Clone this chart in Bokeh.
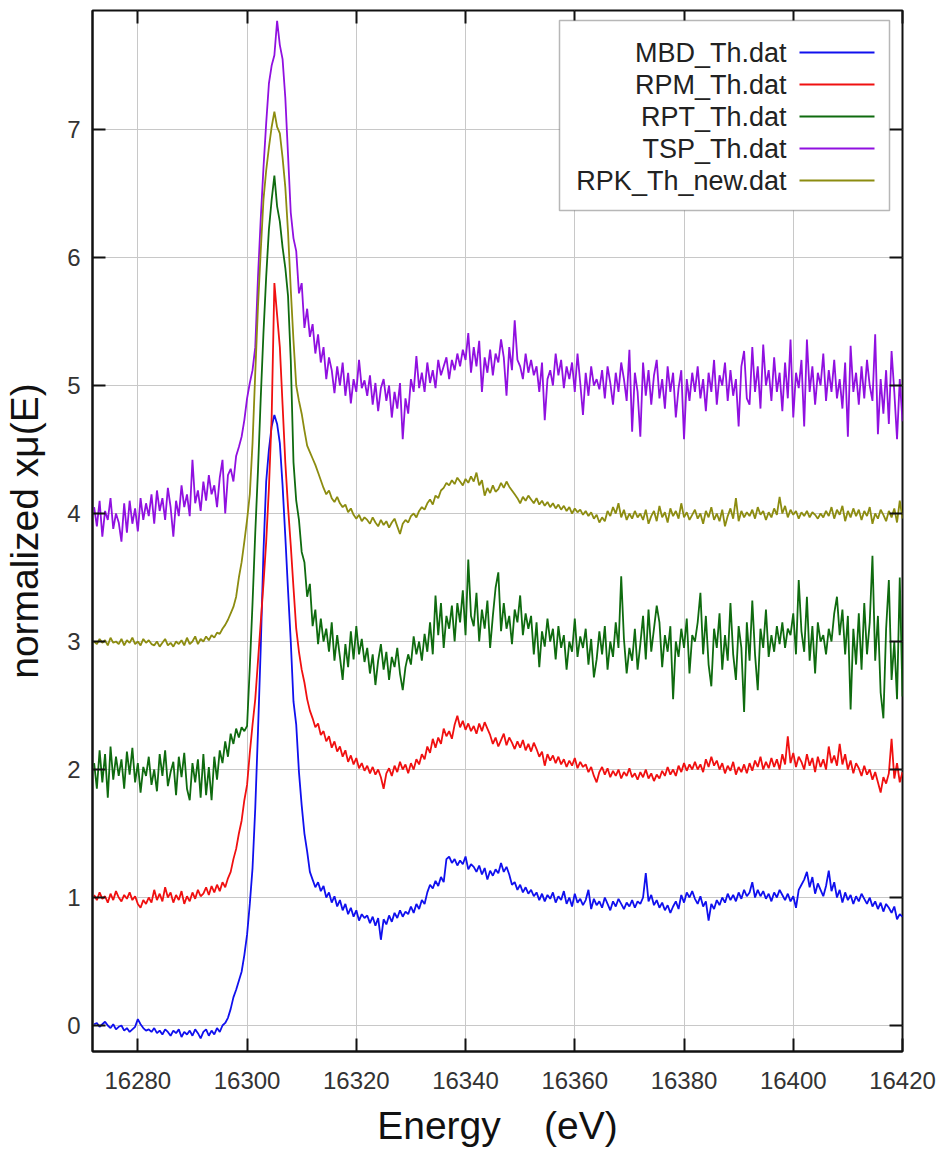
from bokeh.plotting import figure
from bokeh.models import Range1d, LinearAxis, FixedTicker, BoxAnnotation, Label
from bokeh.embed import file_html
from bokeh.resources import INLINE

# ---------------- data ----------------
energy = [
    16272.0, 16272.5, 16273.0, 16273.5, 16274.0, 16274.5, 16275.0, 16275.5, 16276.0, 16276.5,
    16277.0, 16277.5, 16278.0, 16278.5, 16279.0, 16279.5, 16280.0, 16280.5, 16281.0, 16281.5,
    16282.0, 16282.5, 16283.0, 16283.5, 16284.0, 16284.5, 16285.0, 16285.5, 16286.0, 16286.5,
    16287.0, 16287.5, 16288.0, 16288.5, 16289.0, 16289.5, 16290.0, 16290.5, 16291.0, 16291.5,
    16292.0, 16292.5, 16293.0, 16293.5, 16294.0, 16294.5, 16295.0, 16295.5, 16296.0, 16296.5,
    16297.0, 16297.5, 16298.0, 16298.5, 16299.0, 16299.5, 16300.0, 16300.5, 16301.0, 16301.5,
    16302.0, 16302.5, 16303.0, 16303.5, 16304.0, 16304.5, 16305.0, 16305.5, 16306.0, 16306.5,
    16307.0, 16307.5, 16308.0, 16308.5, 16309.0, 16309.5, 16310.0, 16310.5, 16311.0, 16311.5,
    16312.0, 16312.5, 16313.0, 16313.5, 16314.0, 16314.5, 16315.0, 16315.5, 16316.0, 16316.5,
    16317.0, 16317.5, 16318.0, 16318.5, 16319.0, 16319.5, 16320.0, 16320.5, 16321.0, 16321.5,
    16322.0, 16322.5, 16323.0, 16323.5, 16324.0, 16324.5, 16325.0, 16325.5, 16326.0, 16326.5,
    16327.0, 16327.5, 16328.0, 16328.5, 16329.0, 16329.5, 16330.0, 16330.5, 16331.0, 16331.5,
    16332.0, 16332.5, 16333.0, 16333.5, 16334.0, 16334.5, 16335.0, 16335.5, 16336.0, 16336.5,
    16337.0, 16337.5, 16338.0, 16338.5, 16339.0, 16339.5, 16340.0, 16340.5, 16341.0, 16341.5,
    16342.0, 16342.5, 16343.0, 16343.5, 16344.0, 16344.5, 16345.0, 16345.5, 16346.0, 16346.5,
    16347.0, 16347.5, 16348.0, 16348.5, 16349.0, 16349.5, 16350.0, 16350.5, 16351.0, 16351.5,
    16352.0, 16352.5, 16353.0, 16353.5, 16354.0, 16354.5, 16355.0, 16355.5, 16356.0, 16356.5,
    16357.0, 16357.5, 16358.0, 16358.5, 16359.0, 16359.5, 16360.0, 16360.5, 16361.0, 16361.5,
    16362.0, 16362.5, 16363.0, 16363.5, 16364.0, 16364.5, 16365.0, 16365.5, 16366.0, 16366.5,
    16367.0, 16367.5, 16368.0, 16368.5, 16369.0, 16369.5, 16370.0, 16370.5, 16371.0, 16371.5,
    16372.0, 16372.5, 16373.0, 16373.5, 16374.0, 16374.5, 16375.0, 16375.5, 16376.0, 16376.5,
    16377.0, 16377.5, 16378.0, 16378.5, 16379.0, 16379.5, 16380.0, 16380.5, 16381.0, 16381.5,
    16382.0, 16382.5, 16383.0, 16383.5, 16384.0, 16384.5, 16385.0, 16385.5, 16386.0, 16386.5,
    16387.0, 16387.5, 16388.0, 16388.5, 16389.0, 16389.5, 16390.0, 16390.5, 16391.0, 16391.5,
    16392.0, 16392.5, 16393.0, 16393.5, 16394.0, 16394.5, 16395.0, 16395.5, 16396.0, 16396.5,
    16397.0, 16397.5, 16398.0, 16398.5, 16399.0, 16399.5, 16400.0, 16400.5, 16401.0, 16401.5,
    16402.0, 16402.5, 16403.0, 16403.5, 16404.0, 16404.5, 16405.0, 16405.5, 16406.0, 16406.5,
    16407.0, 16407.5, 16408.0, 16408.5, 16409.0, 16409.5, 16410.0, 16410.5, 16411.0, 16411.5,
    16412.0, 16412.5, 16413.0, 16413.5, 16414.0, 16414.5, 16415.0, 16415.5, 16416.0, 16416.5,
    16417.0, 16417.5, 16418.0, 16418.5, 16419.0, 16419.5, 16420.0,
]

mbd_th = [
    0.01, 0.02, -0.01, 0.01, 0.03, 0.0, -0.02, 0.01, -0.03, -0.01, 0.0, -0.04, -0.02, -0.05, -0.03, -0.01, 0.05, 0.01, -0.02, -0.04,
    -0.03, -0.05, -0.02, -0.06, -0.04, -0.07, -0.03, -0.05, -0.08, -0.04, -0.06, -0.03, -0.09, -0.05, -0.07, -0.04, -0.08, -0.03, -0.06, -0.1,
    -0.05, -0.03, -0.08, -0.04, -0.07, -0.02, -0.05, 0.0, 0.02, 0.06, 0.13, 0.22, 0.28, 0.35, 0.42, 0.55, 0.71, 0.95, 1.23, 1.7,
    2.3, 2.95, 3.7, 4.25, 4.5, 4.68, 4.77, 4.7, 4.55, 4.22, 3.82, 3.4, 3.0, 2.53, 2.35, 1.98, 1.72, 1.5, 1.36, 1.2,
    1.14, 1.08, 1.12, 1.05, 1.09, 1.0, 1.04, 0.96, 1.01, 0.93, 0.98, 0.9, 0.95, 0.87, 0.92, 0.85, 0.9, 0.82, 0.87, 0.84,
    0.86, 0.8, 0.85, 0.78, 0.84, 0.67, 0.83, 0.79, 0.86, 0.81, 0.88, 0.84, 0.9, 0.85, 0.89, 0.87, 0.93, 0.88, 0.95, 0.91,
    0.98, 0.95, 1.04, 1.1, 1.07, 1.13, 1.09, 1.16, 1.12, 1.3, 1.32, 1.27, 1.3, 1.25, 1.29, 1.26, 1.32, 1.22, 1.26, 1.24,
    1.2, 1.25, 1.18, 1.23, 1.14, 1.21, 1.17, 1.22, 1.19, 1.27, 1.2, 1.24, 1.18, 1.1, 1.12, 1.06, 1.1, 1.04, 1.08, 1.03,
    1.06, 1.01, 1.04, 0.98, 1.03, 0.97, 1.02, 0.99, 1.04, 0.96, 1.01, 0.98, 1.05, 0.95, 1.0, 0.93, 1.03, 0.96, 0.99, 0.94,
    0.98, 1.06, 0.91, 0.99, 0.94, 0.97, 0.92, 1.0, 0.95, 0.9, 0.97, 0.93, 0.99, 0.95, 0.91, 0.96, 0.93, 0.98, 0.92, 0.97,
    0.95, 1.0, 1.19, 0.97, 1.02, 0.94, 0.98, 0.92, 0.96, 0.9, 0.94, 0.88, 0.93, 0.97, 0.91, 1.02, 0.96, 1.04, 1.0, 1.05,
    0.99, 0.95, 1.01, 0.93, 0.97, 0.82, 0.95, 0.91, 0.98, 0.94, 1.0, 0.96, 1.03, 0.98, 1.02, 0.97, 1.04, 0.99, 1.06, 1.01,
    1.04, 1.12, 1.0, 1.06, 1.01, 1.05, 0.99, 1.03, 0.97, 1.04, 1.0, 1.06, 1.02, 0.98, 1.03, 0.97, 1.01, 0.92, 1.06, 1.1,
    1.14, 1.2, 1.08, 1.16, 1.03, 1.11, 1.06, 1.01, 1.09, 1.21, 1.05, 1.12, 1.0, 1.06, 0.96, 1.04, 0.98, 1.02, 0.95, 1.01,
    0.97, 1.03, 0.99, 0.95, 1.0, 0.93, 0.97, 0.91, 0.96, 0.89, 0.95, 0.92, 0.88, 0.93, 0.83, 0.87, 0.85,
]

rpm_th = [
    1.02, 0.98, 1.04, 0.99, 1.01, 0.96, 1.03, 0.98, 1.05, 1.0, 0.97, 1.02, 0.99, 1.04, 0.98, 1.01, 0.95, 0.92, 0.98, 0.95,
    1.0, 0.96, 1.06, 0.98, 1.03, 0.97, 1.08, 1.0, 1.04, 0.96, 1.02, 0.98, 1.05, 0.95, 1.01, 0.97, 1.04, 0.99, 1.06, 1.01,
    1.03, 1.08, 1.02, 1.09, 1.04, 1.1, 1.05, 1.12, 1.08, 1.15, 1.2, 1.3, 1.38, 1.5, 1.6, 1.76, 1.88, 2.13, 2.35, 2.55,
    2.85, 3.15, 3.45, 3.78, 4.2, 4.75, 5.8, 5.55, 5.3, 4.85, 4.4, 4.05, 3.75, 3.42, 3.1, 2.92, 2.78, 2.68, 2.55, 2.46,
    2.4, 2.33, 2.36, 2.27, 2.3, 2.22, 2.26, 2.17, 2.22, 2.14, 2.18, 2.1, 2.15, 2.06, 2.11, 2.04, 2.09, 2.01, 2.05, 1.99,
    2.03, 1.97, 2.02, 1.96, 2.0, 1.94, 1.85, 1.97, 2.01, 1.95, 2.03, 1.98, 2.06, 2.0, 2.04, 1.97, 2.05, 2.0, 2.08, 2.04,
    2.12, 2.08, 2.18, 2.13, 2.24, 2.17, 2.25, 2.2, 2.32, 2.26, 2.3, 2.24, 2.35, 2.42, 2.33, 2.38, 2.31, 2.36, 2.3, 2.34,
    2.28, 2.36, 2.3, 2.37, 2.32, 2.27, 2.2, 2.25, 2.18, 2.23, 2.28, 2.19, 2.25, 2.21, 2.16, 2.22, 2.17, 2.23, 2.15, 2.2,
    2.14, 2.21, 2.16, 2.1, 2.14, 2.03, 2.12, 2.07, 2.11, 2.05, 2.1, 2.04, 2.08, 2.02, 2.07, 2.03, 2.09, 2.01, 2.06, 2.02,
    2.04, 1.98, 2.02, 1.95, 1.9, 1.98, 2.02, 1.96, 2.01, 1.94, 1.99, 1.95, 2.0, 1.93, 1.98, 1.95, 2.01, 1.94, 1.97, 1.92,
    1.98, 1.94, 2.0, 1.93, 1.97, 1.91, 1.96, 1.93, 1.99, 1.95, 2.02, 1.96, 2.0, 1.95, 2.03, 1.98, 2.05, 1.99, 2.04, 2.0,
    2.06, 2.0, 2.04, 1.98, 2.08, 2.02, 2.1, 2.03, 2.07, 2.0, 2.05, 1.97, 2.03, 1.99, 2.06, 1.96, 2.02, 1.98, 2.04, 1.97,
    2.05, 1.99, 2.07, 2.02, 2.1, 2.0, 2.06, 2.01, 2.09, 2.02, 2.08, 2.0, 2.12, 2.04, 2.26, 2.05, 2.13, 2.02, 2.1, 2.06,
    2.0, 2.12, 2.03, 2.09, 1.98, 2.1, 2.02, 2.08, 2.0, 2.18, 2.05, 2.11, 2.03, 2.2, 2.04, 2.12, 2.0, 2.07, 1.97, 2.05,
    2.01, 1.95, 2.03, 1.96, 2.0, 1.92, 1.98, 1.9, 1.82, 1.94, 1.89, 1.97, 2.24, 1.93, 2.05, 1.9, 1.98,
]

rpt_th = [
    2.05, 1.85, 2.15, 1.9, 2.12, 1.78, 2.18, 1.92, 2.1, 1.95, 2.08, 1.85, 2.14, 1.96, 2.17, 1.9, 2.05, 1.82, 2.02, 1.95,
    2.1, 1.88, 2.0, 1.83, 2.12, 1.95, 2.15, 1.87, 1.98, 2.06, 1.8, 2.1, 1.94, 2.13, 1.85, 1.76, 2.05, 1.9, 2.08, 1.78,
    2.12, 1.8, 2.02, 1.76, 2.1, 1.92, 2.15, 2.05, 2.22, 2.1, 2.28, 2.2, 2.32, 2.25, 2.33, 2.3, 2.34, 2.8, 3.3, 3.85,
    4.34, 4.9, 5.41, 5.85, 6.22, 6.45, 6.64, 6.4, 6.28, 6.08, 5.92, 5.7, 5.2, 4.4, 4.1, 3.95, 3.7, 3.62, 3.35, 3.45,
    3.12, 3.25, 2.98, 3.18, 3.0, 3.1, 2.92, 3.15, 2.85, 3.05, 2.88, 2.7, 2.98, 2.8, 3.08, 2.86, 3.12, 2.9, 3.02, 2.84,
    2.95, 2.75, 2.9, 2.66, 2.85, 2.98, 2.78, 2.92, 2.7, 2.88, 2.8, 2.95, 2.75, 2.62, 2.8, 2.9, 2.82, 3.04, 2.9, 3.0,
    2.85, 3.06, 2.92, 3.15, 2.9, 3.36, 3.05, 3.3, 2.95, 3.2, 3.1, 3.28, 3.0, 3.3, 3.15, 3.4, 3.05, 3.64, 3.2, 3.12,
    3.38, 3.0, 3.25, 3.1, 3.32, 2.95, 3.2, 3.42, 3.54, 3.08, 3.3, 3.1, 3.2, 2.98, 3.25, 3.15, 3.36, 3.05, 3.22, 3.1,
    3.2, 2.9, 3.15, 2.8, 3.08, 2.96, 3.18, 3.0, 3.1, 2.86, 3.12, 2.95, 3.05, 2.78, 3.0, 2.92, 3.18, 2.88, 3.04, 2.95,
    3.1, 2.82, 3.02, 2.72, 2.86, 3.08, 2.9, 3.12, 2.78, 3.0, 2.88, 3.15, 2.95, 3.51, 3.02, 2.75, 2.95, 2.85, 3.1, 2.78,
    2.98, 3.2, 2.86, 3.25, 2.92, 3.1, 3.28, 3.15, 2.8, 3.05, 2.92, 3.12, 2.55, 3.0, 2.88, 3.1, 2.95, 3.18, 2.75, 3.05,
    3.0, 3.15, 3.38, 2.9, 3.2, 2.82, 2.65, 3.1, 2.95, 3.22, 2.78, 3.05, 2.85, 3.3, 2.9, 2.7, 3.12, 2.95, 2.45, 3.15,
    2.85, 3.32, 2.9, 2.62, 3.1, 2.95, 3.25, 2.88, 3.05, 2.92, 3.12, 2.98, 3.15, 2.95, 3.1, 3.05, 3.22, 2.9, 3.48, 3.08,
    2.92, 3.35, 2.85, 3.12, 2.75, 3.15, 3.0, 3.05, 2.9, 3.1, 3.0, 3.22, 3.35, 3.05, 3.25, 2.9, 3.2, 2.47, 3.1, 2.82,
    3.22, 2.78, 3.3, 2.9, 3.15, 3.67, 2.85, 3.2, 2.6, 2.4, 3.1, 3.48, 2.7, 3.0, 2.55, 3.5, 2.57,
]

tsp_th = [
    4.05, 3.9, 4.1, 3.82, 4.02, 3.95, 4.12, 3.88, 4.0, 3.93, 3.78, 4.08, 3.85, 4.1, 3.92, 4.04, 3.86, 4.12, 3.95, 4.08,
    3.98, 4.15, 3.92, 4.18, 4.02, 4.12, 3.95, 4.2, 4.05, 3.82, 4.1, 3.98, 4.22, 4.05, 4.15, 3.98, 4.42, 4.08, 4.18, 4.02,
    4.25, 4.1, 4.3, 4.15, 4.22, 4.05, 4.28, 4.42, 4.0, 4.3, 4.35, 4.25, 4.45, 4.52, 4.6, 4.73, 4.9, 5.02, 5.12, 5.3,
    5.85, 6.3, 6.7, 7.05, 7.36, 7.5, 7.58, 7.85, 7.66, 7.55, 7.25, 6.8, 6.35, 6.15, 6.05, 5.72, 5.8, 5.45, 5.6, 5.38,
    5.48, 5.25, 5.4, 5.18, 5.3, 5.05, 5.22, 5.12, 4.94, 5.15, 5.0, 5.18, 4.92, 5.1, 4.86, 5.05, 4.95, 5.2, 4.98, 5.04,
    4.92, 5.08, 4.85, 5.02, 4.8, 4.98, 5.05, 4.88, 5.0, 4.75, 4.95, 4.82, 5.02, 4.58, 4.9, 4.78, 5.05, 4.95, 5.23, 4.98,
    5.1, 4.95, 5.18, 5.02, 5.12, 4.98, 5.2, 5.08, 5.15, 5.22, 5.05, 5.2, 5.12, 5.25, 5.15, 5.28, 5.2, 5.41, 5.1, 5.3,
    5.15, 5.35, 4.95, 5.22, 5.1, 5.28, 5.08, 5.25, 5.18, 5.36, 5.22, 4.92, 5.3, 5.12, 5.51, 5.2, 5.15, 5.05, 5.25, 5.1,
    5.2, 5.08, 5.15, 4.95, 5.18, 4.73, 5.05, 5.12, 5.0, 5.25, 5.08, 5.2, 4.98, 5.15, 5.05, 5.18, 4.95, 5.25, 5.02, 4.77,
    5.1, 4.92, 5.15, 5.0, 5.05, 4.97, 5.12, 4.9, 5.15, 5.02, 4.85, 5.1, 4.95, 5.18, 5.05, 4.88, 5.28, 4.64, 5.1, 4.95,
    4.6, 5.18, 4.92, 5.12, 4.85, 5.08, 5.2, 4.9, 5.05, 4.82, 5.15, 4.95, 5.1, 4.75, 4.98, 5.12, 4.58, 5.05, 4.88, 5.1,
    4.95, 5.15, 4.9, 5.05, 4.8, 5.1, 4.95, 5.2, 4.85, 5.08, 5.0, 5.18, 4.88, 5.12, 4.92, 5.05, 4.68, 5.15, 5.27, 4.9,
    4.85, 5.3, 4.95, 5.15, 4.82, 5.32, 5.0, 5.12, 4.88, 5.22, 4.95, 5.1, 4.8, 5.18, 4.9, 5.36, 4.75, 5.1, 4.98, 5.2,
    4.68, 5.36, 4.95, 5.15, 4.85, 5.1, 5.0, 5.25, 4.88, 5.12, 4.95, 5.2, 4.9, 5.05, 4.82, 5.18, 4.6, 5.31, 4.95, 5.1,
    4.85, 5.15, 4.9, 5.2, 5.0, 4.88, 5.4, 4.62, 5.05, 4.78, 5.12, 4.7, 5.27, 4.95, 4.58, 5.05, 4.72,
]

rpk_th_new = [
    3.0, 2.98, 3.02, 2.99, 3.01, 2.97, 3.03, 2.99, 3.0, 2.98, 3.02, 2.97, 3.01, 2.99, 3.03, 2.98, 3.0, 2.97, 3.02, 2.99,
    3.01, 2.98, 2.97, 3.0, 2.96, 2.99, 3.02, 2.97, 2.99, 2.96, 3.0, 2.98, 3.01, 2.97, 3.03, 2.98, 3.0, 3.04, 2.98, 3.02,
    3.0, 3.04, 3.01, 3.05, 3.03, 3.07, 3.06, 3.1, 3.13, 3.17, 3.22, 3.27, 3.35, 3.5, 3.62, 3.78, 3.95, 4.15, 4.55, 5.1,
    5.62, 6.05, 6.45, 6.68, 6.86, 7.02, 7.14, 7.02, 6.97, 6.78, 6.55, 6.2, 5.75, 5.35, 5.0, 4.88, 4.78, 4.65, 4.53, 4.48,
    4.43, 4.38, 4.32, 4.26, 4.2, 4.15, 4.18, 4.12, 4.09, 4.13, 4.08, 4.05, 4.07, 4.01, 4.04, 3.99, 3.96, 3.99, 3.94, 3.97,
    3.95, 3.92, 3.97, 3.93, 3.9, 3.95, 3.91, 3.94, 3.89, 3.93, 3.96, 3.9, 3.84, 3.92, 3.95, 3.93, 3.98, 4.0, 3.97, 4.02,
    4.05, 4.03, 4.08, 4.11, 4.07, 4.14, 4.12, 4.18, 4.2, 4.24, 4.22, 4.26, 4.23, 4.28, 4.25, 4.22, 4.27, 4.24, 4.29, 4.25,
    4.32, 4.22, 4.26, 4.14, 4.2, 4.16, 4.22, 4.17, 4.19, 4.24, 4.2, 4.25, 4.21, 4.18, 4.15, 4.12, 4.08, 4.13, 4.1, 4.14,
    4.11, 4.08, 4.12, 4.07, 4.1, 4.06, 4.09, 4.05, 4.08, 4.04, 4.07, 4.03, 4.06, 4.02, 4.05, 4.0, 4.04, 4.01, 4.03, 3.99,
    4.02, 3.98, 4.01, 3.96, 3.99, 3.93, 3.97, 3.94, 4.02, 3.98, 4.05, 4.0, 4.08, 3.97, 4.03, 3.95, 4.0, 3.96, 4.02, 3.97,
    4.0, 3.95, 4.03, 3.92, 3.98, 4.02, 3.94, 4.06, 3.97, 4.01, 3.93, 4.04, 3.98, 4.02, 3.96, 4.08, 3.97, 4.01, 3.95, 3.99,
    4.03, 3.96, 4.0, 3.92, 4.02, 3.97, 4.05, 3.95, 4.0, 3.94, 4.03, 3.9, 3.98, 4.04, 3.96, 4.12, 3.94, 4.02, 3.97, 4.01,
    3.98, 4.03, 3.96, 4.05, 3.99, 4.02, 3.95, 4.01, 3.97, 4.04, 3.99, 4.13, 4.0, 4.06, 3.97, 4.03, 3.99, 4.02, 3.96, 4.01,
    3.98, 4.02, 3.97, 4.01, 3.99, 3.96, 4.0, 3.97, 4.02, 3.98, 4.05, 3.96, 4.03, 3.99, 4.06, 3.94, 4.02, 3.97, 4.04, 3.98,
    4.03, 3.95, 4.02, 3.98, 4.05, 3.92, 4.0, 3.96, 4.03, 3.99, 3.94, 4.02, 3.97, 4.04, 3.93, 4.1, 3.96,
]

series_names = ["MBD_Th.dat", "RPM_Th.dat", "RPT_Th.dat", "TSP_Th.dat", "RPK_Th_new.dat"]
series_values = [mbd_th, rpm_th, rpt_th, tsp_th, rpk_th_new]
series_colors = ["#1010ee", "#f01010", "#0f6b0f", "#9010e0", "#8c8c10"]

x_ticks = [16280, 16300, 16320, 16340, 16360, 16380, 16400, 16420]
y_ticks = [0, 1, 2, 3, 4, 5, 6, 7]

for name, vals in zip(series_names, series_values):
    if len(vals) != len(energy):
        raise ValueError(f"{name}: {len(vals)} values vs {len(energy)} energies")

# ---------------- figure ----------------
FONT = "Liberation Sans"

p = figure(
    width=936, height=1149,
    x_range=Range1d(16271.7, 16420.0), y_range=Range1d(-0.203, 7.93),
    output_backend="svg", toolbar_location=None,
    min_border_left=91, min_border_right=34, min_border_top=10, min_border_bottom=92,
    background_fill_color="white", border_fill_color="white",
)
p.outline_line_color = "#111111"
p.outline_line_width = 2

for vals, col in zip(series_values, series_colors):
    p.line(energy, vals, line_color=col, line_width=1.8)

# main axes
xa = p.xaxis[0]
xa.ticker = FixedTicker(ticks=x_ticks)
xa.axis_label = "Energy \u00a0\u00a0 (eV)"
ya = p.yaxis[0]
ya.ticker = FixedTicker(ticks=y_ticks)
ya.axis_label = "normalized x\u03bc(E)"
for ax in (xa, ya):
    ax.major_tick_in = 13
    ax.major_tick_out = 0
    ax.major_tick_line_color = "#111111"
    ax.major_tick_line_width = 2
    ax.minor_tick_line_color = None
    ax.axis_line_color = "#111111"
    ax.axis_line_width = 2
    ax.major_label_text_font = FONT
    ax.major_label_text_font_size = "24px"
    ax.major_label_text_color = "#333333"
    ax.axis_label_text_font = FONT
    ax.axis_label_text_font_size = "39px"
    ax.axis_label_text_font_style = "normal"
    ax.axis_label_text_color = "#111111"
xa.major_label_standoff = 20
xa.axis_label_standoff = 12
ya.major_label_standoff = 12
ya.axis_label_standoff = 18

# mirrored tick marks on top and right (no labels drawn)
top = LinearAxis(ticker=FixedTicker(ticks=x_ticks), major_label_text_color=None,
                 major_label_text_font_size="1px",
                 major_label_standoff=0, major_tick_in=13, major_tick_out=0,
                 major_tick_line_color="#111111", major_tick_line_width=2,
                 minor_tick_line_color=None, axis_line_color=None)
right = LinearAxis(ticker=FixedTicker(ticks=y_ticks), major_label_text_color=None,
                   major_label_text_font_size="1px",
                   major_label_standoff=0, major_tick_in=13, major_tick_out=0,
                   major_tick_line_color="#111111", major_tick_line_width=2,
                   minor_tick_line_color=None, axis_line_color=None)
p.add_layout(top, "above")
p.add_layout(right, "right")

p.xgrid.grid_line_color = "#c8c8c8"
p.ygrid.grid_line_color = "#c8c8c8"
p.xgrid.grid_line_width = 1
p.ygrid.grid_line_width = 1

# legend (text left of the line sample, as in the reference)
box = BoxAnnotation(left=467, right=797, top=1031, bottom=841,
                    left_units="screen", right_units="screen", top_units="screen", bottom_units="screen",
                    fill_color="white", fill_alpha=1.0, line_color="#111111", line_width=1.5, level="overlay")
p.add_layout(box)
row_y = [999, 967, 935, 903, 871]
for name, col, yy in zip(series_names, series_colors, row_y):
    p.add_layout(Label(x=694, y=yy, x_units="screen", y_units="screen", text=name,
                       text_align="right", text_baseline="middle", text_font=FONT,
                       text_font_size="27px", text_color="#222222", level="overlay"))
    p.add_layout(BoxAnnotation(left=707, right=782, top=yy + 1, bottom=yy - 1,
                               left_units="screen", right_units="screen", top_units="screen", bottom_units="screen",
                               fill_color=col, fill_alpha=1.0, line_color=None, level="overlay"))

open("out.html", "w").write(file_html(p, INLINE))
